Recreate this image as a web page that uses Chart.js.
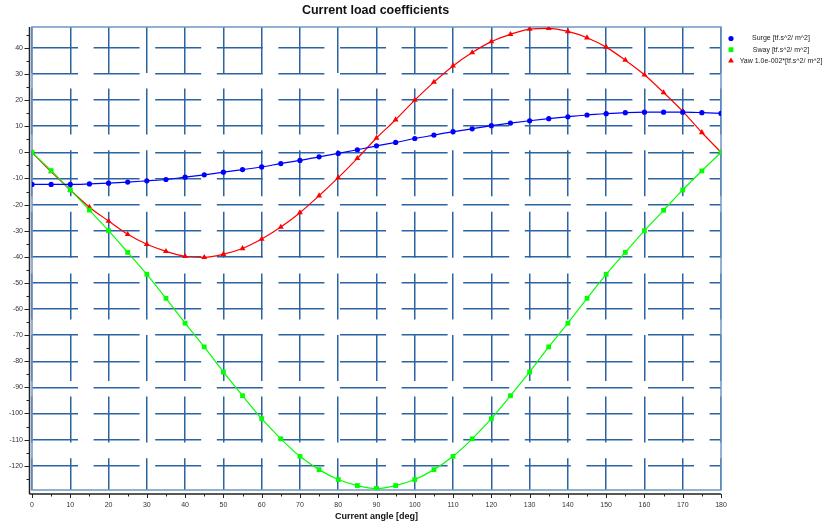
<!DOCTYPE html>
<html>
<head>
<meta charset="utf-8">
<script src="https://cdn.jsdelivr.net/npm/chart.js@4.4.1/dist/chart.umd.min.js"></script>
<style>
  html, body { margin: 0; padding: 0; background: #fff; }
  #wrap { width: 822px; height: 527px; }
</style>
</head>
<body>
<div id="wrap"><canvas id="c" width="822" height="527"></canvas></div>
<script>
// ---- data ----
const angles = [0, 5, 10, 15, 20, 25, 30, 35, 40, 45, 50, 55, 60, 65, 70, 75, 80, 85, 90,
                95, 100, 105, 110, 115, 120, 125, 130, 135, 140, 145, 150, 155, 160, 165, 170, 175, 180];

const surge = [-12.3, -12.3, -12.3, -12.1, -11.8, -11.4, -10.9, -10.4, -9.5, -8.6, -7.6, -6.6, -5.6,
               -4.3, -3.1, -1.7, -0.4, 1.0, 2.5, 3.8, 5.3, 6.6, 7.9, 9.0, 10.2, 11.2, 12.1, 12.9,
               13.6, 14.3, 14.8, 15.2, 15.4, 15.4, 15.4, 15.2, 14.9];

const sway = [0, -7.0, -14.4, -22.1, -30.0, -38.3, -46.7, -55.9, -65.4, -74.5, -84.1, -93.2, -102.0,
              -109.7, -116.4, -121.5, -125.3, -127.6, -128.7, -127.6, -125.3, -121.5, -116.4, -109.7,
              -102.0, -93.2, -84.1, -74.5, -65.4, -55.9, -46.7, -38.3, -30.0, -22.2, -14.4, -7.1, 0];

const yaw = [0, -7.4, -14.4, -21.0, -26.3, -31.4, -35.2, -37.9, -39.8, -40.2, -39.0, -36.8, -33.2,
             -28.6, -23.1, -16.6, -9.7, -2.3, 5.5, 12.5, 20.0, 26.9, 33.1, 38.2, 42.4, 45.2, 47.2,
             47.5, 46.3, 43.9, 40.3, 35.3, 29.7, 22.9, 15.7, 7.6, 0];

const seriesNames = ['Surge [tf.s^2/ m^2]', 'Sway [tf.s^2/ m^2]', 'Yaw 1.0e-002*[tf.s^2/ m^2]'];

const xTicks = [0, 10, 20, 30, 40, 50, 60, 70, 80, 90, 100, 110, 120, 130, 140, 150, 160, 170, 180];
const yTicks = [-120, -110, -100, -90, -80, -70, -60, -50, -40, -30, -20, -10, 0, 10, 20, 30, 40];

const FONT = 'Liberation Sans, Arial, sans-serif';
const GRID = '#2b63a3';

function pts(ys) {
  return angles.map((a, i) => ({ x: a, y: ys[i] }));
}

function series(label, data, color, style, r) {
  return {
    label,
    data: pts(data),
    borderColor: color,
    backgroundColor: color,
    borderWidth: 1.2,
    pointStyle: style,
    pointRadius: r,
    pointBorderWidth: 0,
    pointBackgroundColor: color,
    cubicInterpolationMode: 'monotone',
    fill: false
  };
}

// plot frame, black offset axes with minor ticks, and the legend
const decorations = {
  id: 'decorations',
  afterLayout(chart) {
    // centre the title over the plot, not the whole canvas
    if (chart.titleBlock) chart.titleBlock.left = 30;
  },
  beforeDatasetsDraw(chart) {
    const { ctx, chartArea: a } = chart;
    ctx.save();
    ctx.strokeStyle = '#6f97c4';
    ctx.lineWidth = 1.5;
    ctx.strokeRect(a.left, a.top, a.right - a.left, a.bottom - a.top);
    ctx.restore();
  },
  afterDraw(chart) {
    const { ctx, chartArea: a } = chart;
    const xs = chart.scales.x, ys = chart.scales.y;
    const axX = a.left - 2.5, axY = a.bottom + 4;
    ctx.save();
    ctx.strokeStyle = '#222';
    ctx.lineWidth = 1.5;
    ctx.beginPath();
    ctx.moveTo(axX, a.top);
    ctx.lineTo(axX, axY);
    ctx.moveTo(axX, axY);
    ctx.lineTo(a.right, axY);
    ctx.stroke();

    ctx.lineWidth = 1;
    ctx.beginPath();
    xTicks.forEach((v, i) => {
      const px = Math.round(xs.getPixelForValue(v)) + 0.5;
      ctx.moveTo(px, axY); ctx.lineTo(px, axY + 4);
      if (i < xTicks.length - 1) {
        const pm = Math.round(xs.getPixelForValue((v + xTicks[i + 1]) / 2)) + 0.5;
        ctx.moveTo(pm, axY); ctx.lineTo(pm, axY + 2.5);
      }
    });
    const yMinor = yTicks.map(v => v - 5).concat([yTicks[yTicks.length - 1] + 5]);
    yTicks.forEach(v => {
      const py = Math.round(ys.getPixelForValue(v)) + 0.5;
      ctx.moveTo(axX, py); ctx.lineTo(axX - 5, py);
    });
    yMinor.forEach(v => {
      if (v < ys.min || v > ys.max) return;
      const py = Math.round(ys.getPixelForValue(v)) + 0.5;
      ctx.moveTo(axX, py); ctx.lineTo(axX - 3, py);
    });
    ctx.stroke();

    // legend
    ctx.font = '7px ' + FONT;
    ctx.textAlign = 'center';
    ctx.textBaseline = 'middle';
    chart.data.datasets.forEach((ds, i) => {
      const y = 38.5 + i * 11.2;
      ctx.fillStyle = ds.pointBackgroundColor;
      Chart.helpers.drawPoint(ctx, { pointStyle: ds.pointStyle, radius: ds.pointRadius, rotation: 0, borderWidth: 0 }, 731, y);
      ctx.fillStyle = '#222';
      ctx.fillText(ds.label, 781, y);
    });
    ctx.restore();
  }
};

new Chart(document.getElementById('c'), {
  type: 'line',
  data: {
    datasets: [
      series(seriesNames[0], surge, '#0000ff', 'circle', 2.6),
      series(seriesNames[1], sway, '#00ff00', 'rect', 3.4),
      series(seriesNames[2], yaw, '#ff0000', 'triangle', 3.4)
    ]
  },
  options: {
    responsive: false,
    animation: false,
    devicePixelRatio: 1,
    events: [],
    layout: { padding: { left: 0, right: 101, top: 0, bottom: 0 } },
    plugins: {
      legend: { display: false },
      tooltip: { enabled: false },
      title: {
        display: true,
        text: 'Current load coefficients',
        color: '#111',
        font: { family: FONT, size: 12.5, weight: 'bold' },
        padding: { top: 3, bottom: 9 }
      }
    },
    scales: {
      x: {
        type: 'linear',
        min: 0,
        max: 180,
        afterBuildTicks: s => { s.ticks = xTicks.map(v => ({ value: v })); },
        afterFit: s => { s.height = 37; },
        grid: { color: GRID, lineWidth: 1.5, drawTicks: false },
        border: { display: false, dash: [46, 15.6] },
        ticks: { color: '#333', font: { family: FONT, size: 7 }, padding: 11, maxRotation: 0, autoSkip: false },
        title: {
          display: true,
          text: 'Current angle [deg]',
          color: '#111',
          font: { family: FONT, size: 9, weight: 'bold' },
          padding: { top: 0, bottom: 5 }
        }
      },
      y: {
        type: 'linear',
        min: -129.3,
        max: 48,
        afterBuildTicks: s => { s.ticks = yTicks.map(v => ({ value: v })); },
        afterFit: s => { s.width = 32; },
        grid: { color: GRID, lineWidth: 1.5, drawTicks: false },
        border: { display: false, dash: [46, 15.6] },
        ticks: { color: '#333', font: { family: FONT, size: 7 }, padding: 9, autoSkip: false }
      }
    }
  },
  plugins: [decorations]
});
</script>
</body>
</html>
